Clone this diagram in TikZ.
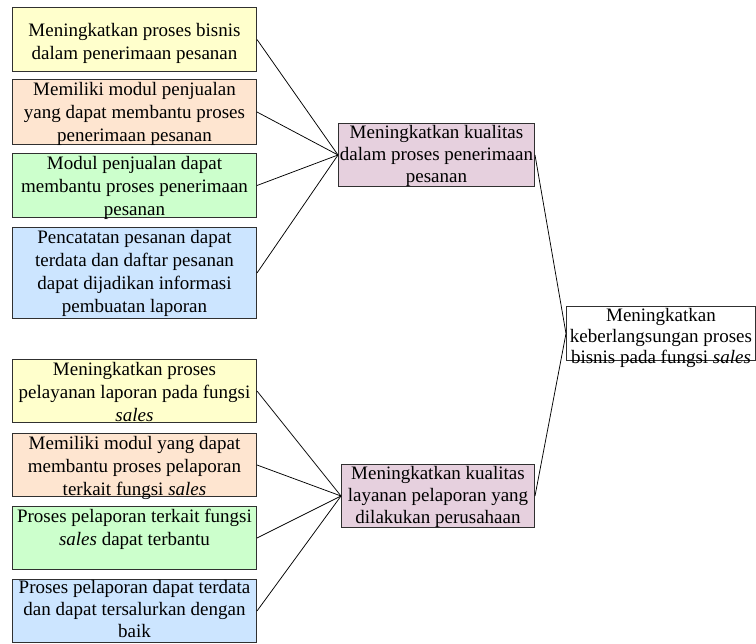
\documentclass[tikz,border=0pt]{standalone}
\usepackage{fontspec}
\setmainfont{Liberation Serif}
\usepackage{xcolor}
\usetikzlibrary{calc, positioning}

\definecolor{kuning}{HTML}{FFFFCC}
\definecolor{jingga}{HTML}{FEE5D0}
\definecolor{hijau}{HTML}{CCFFCC}
\definecolor{biru}{HTML}{CCE5FF}
\definecolor{ungu}{HTML}{E6D0DE}
\definecolor{garis}{HTML}{303030}

% lebar, tinggi, jarak atas, teks
\newcommand{\isi}[4]{\parbox[c][#2pt][t]{#1pt}{\centering\vspace*{#3pt}\strut #4\par}}

\begin{document}
\begin{tikzpicture}[x = 1pt, y = -1pt,
  kotak/.style = {draw = garis, line width = 1pt, inner sep = 0pt, anchor = north west, font = \fontsize{19}{23}\selectfont},
  hub/.style = {draw = black, line width = 0.75pt}]
\useasboundingbox (0,0) rectangle (756,644);
\node[kotak, fill = kuning] (k1) at (12,7) {\isi{244}{64}{13}{Meningkatkan proses bisnis\\ dalam penerimaan pesanan}};
\node[kotak, fill = jingga] (k2) at (12,79) {\isi{244}{65}{0}{Memiliki modul penjualan\\ yang dapat membantu proses\\ penerimaan pesanan}};
\node[kotak, fill = hijau] (k3) at (12,153) {\isi{244}{64}{0}{Modul penjualan dapat\\ membantu proses penerimaan\\ pesanan}};
\node[kotak, fill = biru] (k4) at (12,227) {\isi{244}{91}{0}{Pencatatan pesanan dapat\\ terdata dan daftar pesanan\\ dapat dijadikan informasi\\ pembuatan laporan}};
\node[kotak, fill = kuning] (k5) at (12,359) {\isi{244}{63}{0}{Meningkatkan proses\\ pelayanan laporan pada fungsi\\ \textit{sales}}};
\node[kotak, fill = jingga] (k6) at (12,433) {\isi{244}{63}{0}{Memiliki modul yang dapat\\ membantu proses pelaporan\\ terkait fungsi \textit{sales}}};
\node[kotak, fill = hijau] (k7) at (12,506) {\isi{244}{63}{0}{Proses pelaporan terkait fungsi\\ \textit{sales} dapat terbantu}};
\node[kotak, fill = biru, font = \fontsize{19}{22}\selectfont] (k8) at (12,579) {\isi{244}{63}{-1}{Proses pelaporan dapat terdata\\ dan dapat tersalurkan dengan\\ baik}};
\node[kotak, fill = ungu, font = \fontsize{19}{22}\selectfont] (t1) at (338,123) {\isi{196}{63}{0}{Meningkatkan kualitas\\ dalam proses penerimaan\\ pesanan}};
\node[kotak, fill = ungu, font = \fontsize{19}{22}\selectfont] (t2) at (341,464) {\isi{193}{63}{0}{Meningkatkan kualitas\\ layanan pelaporan yang\\ dilakukan perusahaan}};
\node[kotak, fill = white, font = \fontsize{19}{21}\selectfont] (u) at (566,306) {\isi{189}{54}{0}{Meningkatkan\\ keberlangsungan proses\\ bisnis pada fungsi \textit{sales}}};
\foreach \i in {k1, k2, k3, k4}{
\draw[hub] (\i.east) -- (t1.west);
}
\foreach \i in {k5, k6, k7, k8}{
\draw[hub] (\i.east) -- (t2.west);
}
\draw[hub] (t1.east) -- (u.west);
\draw[hub] (t2.east) -- (u.west);
\end{tikzpicture}
\end{document}
